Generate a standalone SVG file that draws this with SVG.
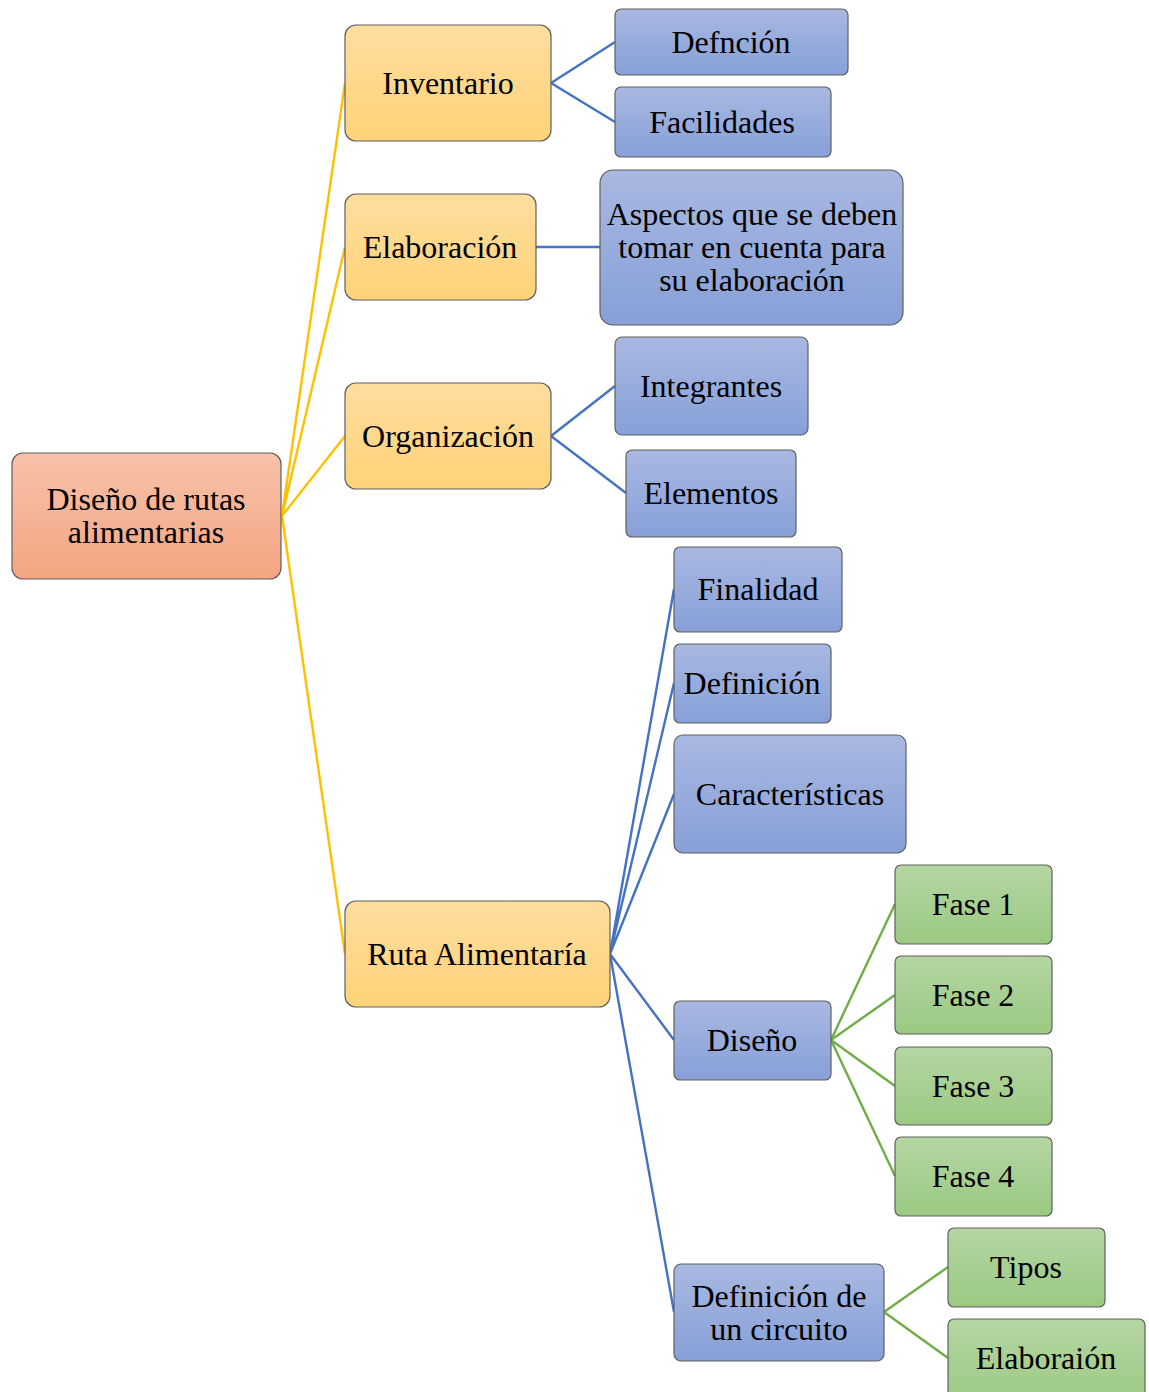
<svg xmlns="http://www.w3.org/2000/svg" width="1149" height="1392" viewBox="0 0 1149 1392">
<defs>
<linearGradient id="gO" x1="0" y1="0" x2="0" y2="1"><stop offset="0" stop-color="#F7C2A9"/><stop offset="1" stop-color="#F4A582"/></linearGradient>
<linearGradient id="gY" x1="0" y1="0" x2="0" y2="1"><stop offset="0" stop-color="#FEDD9E"/><stop offset="1" stop-color="#FED378"/></linearGradient>
<linearGradient id="gB" x1="0" y1="0" x2="0" y2="1"><stop offset="0" stop-color="#A9B8E1"/><stop offset="1" stop-color="#87A0D8"/></linearGradient>
<linearGradient id="gG" x1="0" y1="0" x2="0" y2="1"><stop offset="0" stop-color="#B5D6A3"/><stop offset="1" stop-color="#9BC982"/></linearGradient>
</defs>
<style>
.o,.y,.b,.g{stroke:#5F5F5F;stroke-width:1.2}
.o{fill:url(#gO)}.y{fill:url(#gY)}.b{fill:url(#gB)}.g{fill:url(#gG)}
text{font-family:"Liberation Serif","Times New Roman",serif;font-size:32px;fill:#000;text-anchor:middle}
.cy{stroke:#FFC000;stroke-width:2.4;fill:none}
.cb{stroke:#4472C4;stroke-width:2.4;fill:none}
.cg{stroke:#70AD47;stroke-width:2.4;fill:none}
</style>
<rect width="1149" height="1392" fill="#fff"/>
<g id="connectors">
<path class="cy" d="M282 516L345 83M282 516L345 247M282 516L345 436M282 516L345 954"/>
<path class="cb" d="M551 83L615 42M551 83L615 122M536 247L600 247M551 436L615 386M551 436L626 493"/>
<path class="cb" d="M610 954L674 589M610 954L674 683M610 954L674 794M610 954L674 1040M610 954L674 1312"/>
<path class="cg" d="M831 1040L895 904M831 1040L895 995M831 1040L895 1086M831 1040L895 1176M884 1312L948 1267M884 1312L948 1358"/>
</g>
<g id="root"><rect class="o" x="12" y="453" width="269" height="126" rx="11"/><text x="146" y="510">Diseño de rutas</text><text x="146" y="543">alimentarias</text></g>
<g id="inventario"><rect class="y" x="345" y="25" width="206" height="116" rx="11"/><text x="448" y="94">Inventario</text></g>
<g id="elaboracion"><rect class="y" x="345" y="194" width="191" height="106" rx="11"/><text x="440" y="258">Elaboración</text></g>
<g id="organizacion"><rect class="y" x="345" y="383" width="206" height="106" rx="11"/><text x="448" y="447">Organización</text></g>
<g id="ruta"><rect class="y" x="345" y="901" width="265" height="106" rx="11"/><text x="477" y="965">Ruta Alimentaría</text></g>
<g id="defncion"><rect class="b" x="615" y="9" width="233" height="66" rx="6"/><text x="731" y="53">Defnción</text></g>
<g id="facilidades"><rect class="b" x="615" y="87" width="216" height="70" rx="6"/><text x="722" y="133">Facilidades</text></g>
<g id="aspectos"><rect class="b" x="600" y="170" width="303" height="155" rx="13"/><text x="752" y="225">Aspectos que se deben</text><text x="752" y="258">tomar en cuenta para</text><text x="752" y="291">su elaboración</text></g>
<g id="integrantes"><rect class="b" x="615" y="337" width="193" height="98" rx="7"/><text x="711" y="397">Integrantes</text></g>
<g id="elementos"><rect class="b" x="626" y="450" width="170" height="87" rx="6"/><text x="711" y="504">Elementos</text></g>
<g id="finalidad"><rect class="b" x="674" y="547" width="168" height="85" rx="6"/><text x="758" y="600">Finalidad</text></g>
<g id="definicion"><rect class="b" x="674" y="644" width="157" height="79" rx="6"/><text x="752" y="694">Definición</text></g>
<g id="caracteristicas"><rect class="b" x="674" y="735" width="232" height="118" rx="9"/><text x="790" y="805">Características</text></g>
<g id="diseno"><rect class="b" x="674" y="1001" width="157" height="79" rx="6"/><text x="752" y="1051">Diseño</text></g>
<g id="circuito"><rect class="b" x="674" y="1264" width="210" height="97" rx="7"/><text x="779" y="1307">Definición de</text><text x="779" y="1340">un circuito</text></g>
<g id="fase1"><rect class="g" x="895" y="865" width="157" height="79" rx="6"/><text x="973" y="915">Fase 1</text></g>
<g id="fase2"><rect class="g" x="895" y="956" width="157" height="78" rx="6"/><text x="973" y="1006">Fase 2</text></g>
<g id="fase3"><rect class="g" x="895" y="1047" width="157" height="78" rx="6"/><text x="973" y="1097">Fase 3</text></g>
<g id="fase4"><rect class="g" x="895" y="1137" width="157" height="79" rx="6"/><text x="973" y="1187">Fase 4</text></g>
<g id="tipos"><rect class="g" x="948" y="1228" width="157" height="79" rx="6"/><text x="1026" y="1278">Tipos</text></g>
<g id="elaboraion"><rect class="g" x="948" y="1319" width="197" height="90" rx="6"/><text x="1046" y="1369">Elaboraión</text></g>
</svg>
